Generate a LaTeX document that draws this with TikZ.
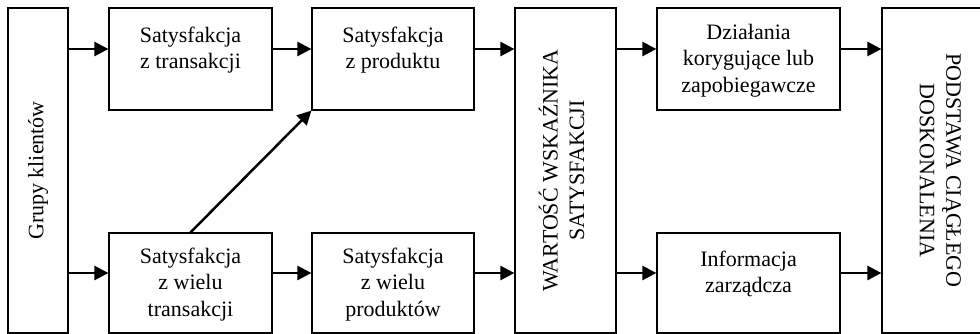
\documentclass[tikz,border=0pt]{standalone}
\usepackage{fontspec}
\setmainfont{Liberation Serif}
\usepackage{graphicx}
\usetikzlibrary{arrows.meta}
\begin{document}
\begin{tikzpicture}[x=1pt,y=-1pt,
  box/.style={draw, line width=1.2pt, inner sep=0pt, align=center,
    font=\fontsize{22}{26.5}\selectfont},
  arr/.style={line width=2.5pt, -{Triangle[length=14pt,width=14pt]}}]
\useasboundingbox (0,0) rectangle (980,334);
% boxes
\node[box, minimum width=60pt, minimum height=325pt] (grupy) at (38,170.5)
  {\rotatebox{90}{Grupy klientów}};
\node[box, minimum width=163pt, minimum height=102pt] (st) at (190.5,59)
  {Satysfakcja\\z transakcji\\[-9pt]\vphantom{p}};
\node[box, minimum width=163pt, minimum height=100pt] (wt) at (190.5,283)
  {\rule{0pt}{18pt}Satysfakcja\\z wielu\\transakcji};
\node[box, minimum width=162pt, minimum height=102pt] (sp) at (393,59)
  {Satysfakcja\\z produktu\\[-9pt]\vphantom{p}};
\node[box, minimum width=162pt, minimum height=100pt] (sw) at (393,283)
  {\rule{0pt}{18pt}Satysfakcja\\z wielu\\produktów};
\node[box, minimum width=101pt, minimum height=325pt] (war) at (565.5,170.5)
  {\rotatebox{90}{\begin{tabular}{@{}c@{}}WARTOŚĆ WSKAŹNIKA\\SATYSFAKCJI\end{tabular}}};
\node[box, minimum width=183pt, minimum height=102pt] (dz) at (748.5,59)
  {\rule{0pt}{18pt}Działania\\korygujące lub\\zapobiegawcze};
\node[box, minimum width=183pt, minimum height=100pt] (inf) at (748.5,283)
  {Informacja\\zarządcza\\[-9pt]\vphantom{p}};
\node[box, minimum width=113pt, minimum height=325pt] (pod) at (938.5,170.5)
  {\rotatebox{-90}{\begin{tabular}{@{}c@{}}PODSTAWA CIĄGŁEGO\\DOSKONALENIA\end{tabular}}};
% arrow levels
\coordinate (a1) at ([yshift=10pt]st.west);
\coordinate (b1) at ([yshift=10pt]wt.west);
% top row
\draw[arr] (grupy.east |- a1) -- (a1);
\draw[arr] (a1 -| st.east) -- (a1 -| sp.west);
\draw[arr] (a1 -| sp.east) -- (a1 -| war.west);
\draw[arr] (a1 -| war.east) -- (a1 -| dz.west);
\draw[arr] (a1 -| dz.east) -- (a1 -| pod.west);
% bottom row
\draw[arr] (grupy.east |- b1) -- (b1);
\draw[arr] (b1 -| wt.east) -- (b1 -| sw.west);
\draw[arr] (b1 -| sw.east) -- (b1 -| war.west);
\draw[arr] (b1 -| war.east) -- (b1 -| inf.west);
\draw[arr] (b1 -| inf.east) -- (b1 -| pod.west);
% diagonal
\draw[arr] (wt.north) -- (sp.south west);
\end{tikzpicture}
\end{document}
